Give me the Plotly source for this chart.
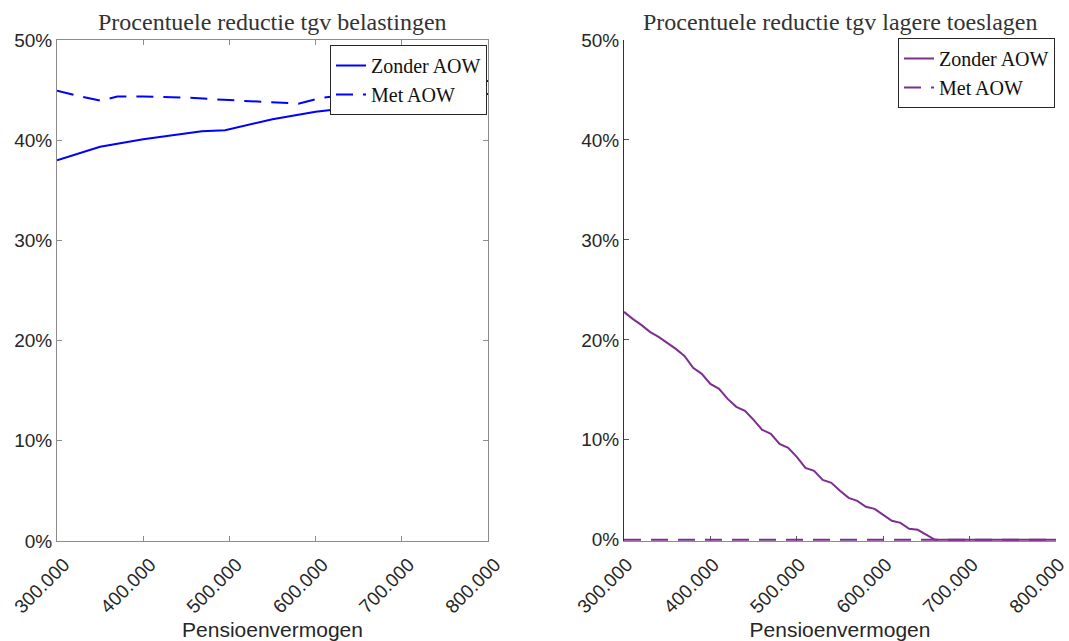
import plotly.graph_objects as go

# ---- data ----
belasting_x_zonder = [300000, 350000, 400000, 450000, 468000, 495000, 550000, 600000, 650000, 700000, 750000, 800000]
belasting_zonder = [0.380, 0.3935, 0.401, 0.407, 0.409, 0.410, 0.421, 0.4285, 0.4335, 0.4385, 0.443, 0.446]

belasting_x_met = [300000, 325000, 350000, 370000, 400000, 450000, 500000, 550000, 580000, 605000, 650000, 700000, 750000, 800000]
belasting_met = [0.4495, 0.444, 0.4395, 0.4435, 0.4435, 0.4425, 0.440, 0.438, 0.4365, 0.442, 0.447, 0.452, 0.456, 0.459]

toeslag_x = [300000, 310000, 320000, 330000, 340000, 350000, 360000, 370000, 380000, 390000,
             400000, 410000, 420000, 430000, 440000, 450000, 460000, 470000, 480000, 490000,
             500000, 510000, 520000, 530000, 540000, 550000, 560000, 570000, 580000, 590000,
             600000, 610000, 620000, 630000, 640000, 650000, 660000, 700000, 750000, 800000]
toeslag_zonder = [0.228, 0.221, 0.215, 0.208, 0.203, 0.197, 0.191, 0.184, 0.172, 0.166,
                  0.156, 0.151, 0.141, 0.133, 0.129, 0.120, 0.110, 0.106, 0.096, 0.092,
                  0.083, 0.072, 0.069, 0.060, 0.057, 0.049, 0.042, 0.039, 0.033, 0.031,
                  0.025, 0.019, 0.017, 0.011, 0.010, 0.005, 0.000, 0.000, 0.000, 0.000]
toeslag_x_met = [300000, 800000]
toeslag_met = [0.0, 0.0]

titles = ["Procentuele reductie tgv belastingen", "Procentuele reductie tgv lagere toeslagen"]
x_label = "Pensioenvermogen"
x_ticks = [300000, 400000, 500000, 600000, 700000, 800000]
y_ticks = [0, 0.1, 0.2, 0.3, 0.4, 0.5]

BLUE = "#0000FF"
PURPLE = "#7E2F8E"
SERIF = "Liberation Serif"
SANS = "Liberation Sans"
DASH = "17px,10px"

fig = go.Figure()
fig.add_trace(go.Scatter(x=belasting_x_zonder, y=belasting_zonder, mode="lines", name="Zonder AOW",
                         line=dict(color=BLUE, width=2), xaxis="x", yaxis="y", legend="legend"))
fig.add_trace(go.Scatter(x=belasting_x_met, y=belasting_met, mode="lines", name="Met AOW",
                         line=dict(color=BLUE, width=2, dash=DASH), xaxis="x", yaxis="y", legend="legend"))
fig.add_trace(go.Scatter(x=toeslag_x, y=toeslag_zonder, mode="lines", name="Zonder AOW",
                         line=dict(color=PURPLE, width=2), xaxis="x2", yaxis="y2", legend="legend2",
                         cliponaxis=False))
fig.add_trace(go.Scatter(x=toeslag_x_met, y=toeslag_met, mode="lines", name="Met AOW",
                         line=dict(color=PURPLE, width=2, dash=DASH), xaxis="x2", yaxis="y2", legend="legend2",
                         cliponaxis=False))

tickfont = dict(family=SANS, size=19, color="#262626")
xcommon = dict(range=[300000, 800000], tickvals=x_ticks, tickformat=",d", tickangle=-45,
               ticks="inside", ticklen=5, showline=True, linewidth=1, showgrid=False, zeroline=False,
               tickfont=tickfont, automargin=False, ticklabelstandoff=4,
               ticklabeloverflow="allow",
               title=dict(text=x_label, font=dict(family=SANS, size=21, color="#262626"), standoff=6))
ycommon = dict(tickvals=y_ticks, tickformat=".0%", ticks="inside", ticklen=5,
               showline=True, linewidth=1, showgrid=False, zeroline=False, tickfont=tickfont,
               automargin=False)

fig.update_layout(
    width=1069, height=641,
    margin=dict(l=0, r=0, t=40, b=100),
    paper_bgcolor="white", plot_bgcolor="white",
    separators=",.",
    showlegend=True,
    xaxis=dict(domain=[57/1069, 488/1069], anchor="y", mirror="ticks", linecolor="#8c8c8c", tickcolor="#8c8c8c",
               ticklabelshift=7, **xcommon),
    yaxis=dict(domain=[0, 1], anchor="x", range=[0, 0.5], mirror="ticks", linecolor="#8c8c8c", tickcolor="#8c8c8c", **ycommon),
    xaxis2=dict(domain=[624/1069, 1056/1069], anchor="y2", linecolor="#8c8c8c", tickcolor="#555555",
                layer="below traces", ticklabelshift=3, **xcommon),
    yaxis2=dict(domain=[0, 1], anchor="x2", range=[-0.0012, 0.5], linecolor="#333333", tickcolor="#555555",
                **ycommon),
    legend=dict(x=330/1069, y=0.99, xanchor="left", yanchor="top", bgcolor="white",
                bordercolor="#262626", borderwidth=1, font=dict(family=SERIF, size=20, color="#111111"),
                itemwidth=30, tracegroupgap=0),
    legend2=dict(x=898/1069, y=1.004, xanchor="left", yanchor="top", bgcolor="white",
                 bordercolor="#262626", borderwidth=1, font=dict(family=SERIF, size=20, color="#111111"),
                 itemwidth=30, tracegroupgap=0),
    annotations=[
        dict(text=titles[0], x=(57 + 488) / 2 / 1069, y=1 + 18/501, xref="paper", yref="paper",
             xanchor="center", yanchor="middle", showarrow=False,
             font=dict(family=SERIF, size=24, color="#333333")),
        dict(text=titles[1], x=(624 + 1056) / 2 / 1069, y=1 + 18/501, xref="paper", yref="paper",
             xanchor="center", yanchor="middle", showarrow=False,
             font=dict(family=SERIF, size=24, color="#333333")),
    ],
)

fig.write_html("out.html")
